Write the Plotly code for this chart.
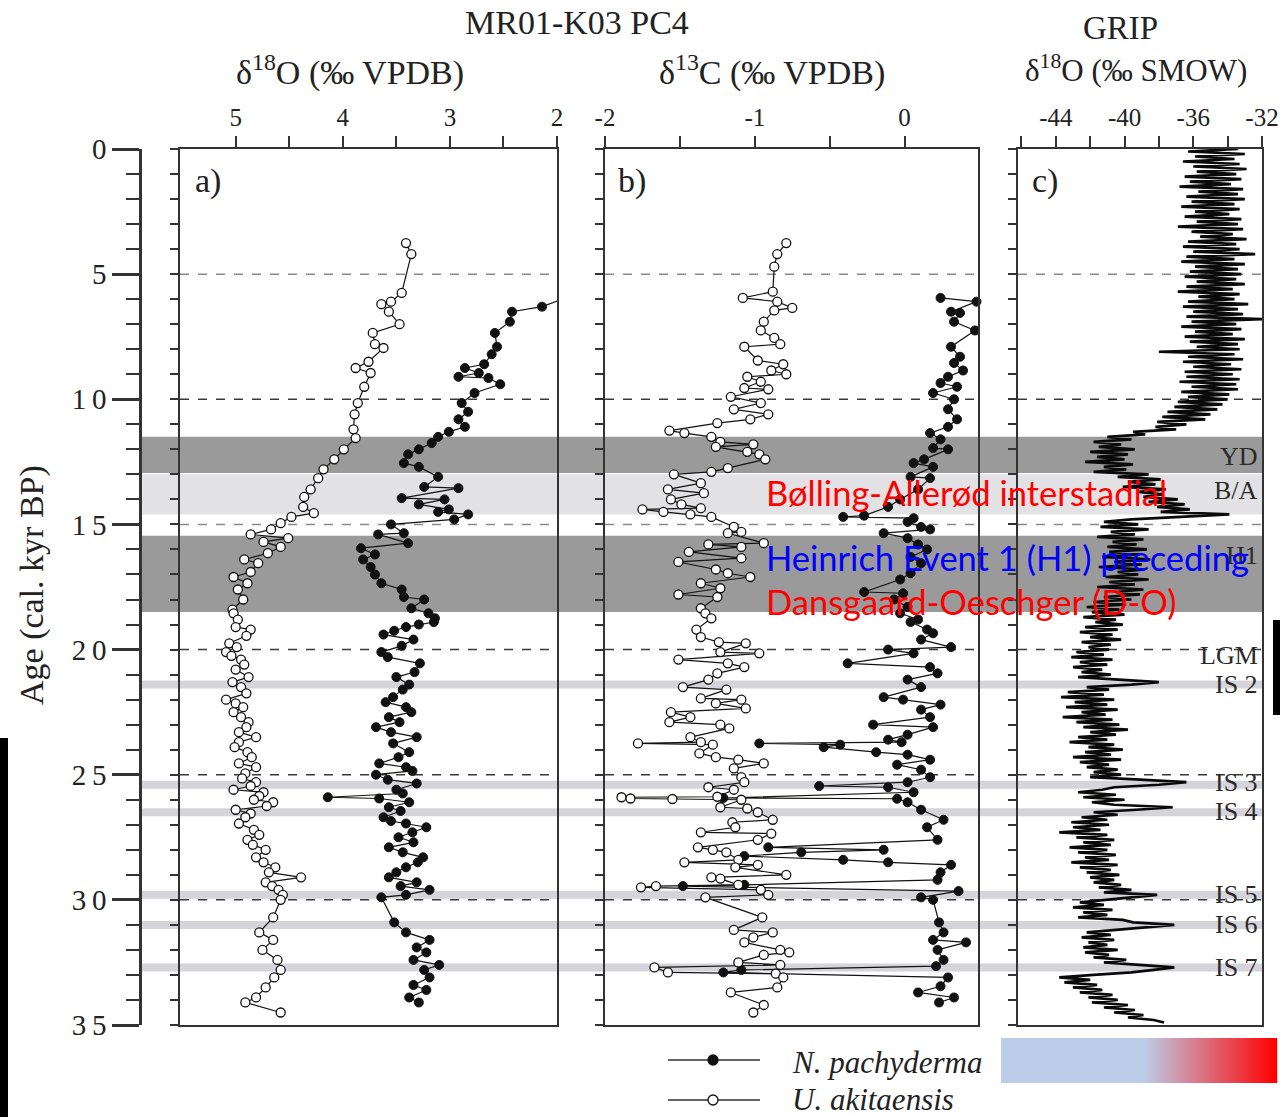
import plotly.graph_objects as go

W, H = 1286, 1117
SERIF = "Liberation Serif"
SANS = "Lato"

# ---------------- MR01-K03 PC4, panel a: d18O (permil VPDB) ----------------
a_pachy_age = [6.05, 6.3, 6.5, 6.9, 7.35, 7.9, 8.2, 8.6, 8.75, 8.95,
               9.1, 9.15, 9.4, 9.75, 10.15, 10.5, 10.8, 11.1, 11.3, 11.5,
               11.75, 12.0, 12.2, 12.55, 12.7, 13.1, 13.5, 13.55, 13.95, 14.0,
               14.2, 14.4, 14.5, 14.6, 14.8, 15.0, 15.35, 15.4, 15.75, 15.95,
               16.2, 16.4, 16.7, 17.0, 17.35, 17.6, 17.9, 18.0, 18.35, 18.55,
               18.75, 18.9, 19.0, 19.1, 19.25, 19.4, 19.6, 19.85, 20.1, 20.3,
               20.55, 20.9, 21.1, 21.4, 21.6, 21.9, 22.1, 22.3, 22.5, 22.7,
               22.9, 23.1, 23.3, 23.5, 23.75, 24.1, 24.3, 24.55, 24.7, 24.85,
               25.0, 25.2, 25.35, 25.6, 25.75, 25.9, 25.95, 26.1, 26.3, 26.45,
               26.7, 26.85, 26.95, 27.1, 27.3, 27.5, 27.7, 27.9, 28.1, 28.3,
               28.5, 28.7, 28.9, 29.1, 29.3, 29.45, 29.6, 29.8, 29.9, 30.9,
               31.3, 31.6, 31.9, 32.1, 32.4, 32.6, 32.8, 33.1, 33.4, 33.6,
               33.9, 34.1]
a_pachy_d18o = [1.98, 2.14, 2.42, 2.44, 2.58, 2.56, 2.61, 2.68, 2.86, 2.73,
                2.92, 2.64, 2.53, 2.77, 2.89, 2.83, 2.92, 2.86, 3.01, 3.11,
                3.17, 3.29, 3.39, 3.43, 3.29, 3.11, 3.24, 2.92, 3.45, 3.05,
                3.29, 3.01, 3.11, 2.83, 2.96, 3.55, 3.43, 3.67, 3.39, 3.83,
                3.70, 3.81, 3.74, 3.70, 3.64, 3.45, 3.43, 3.24, 3.36, 3.20,
                3.14, 3.15, 3.29, 3.41, 3.52, 3.62, 3.34, 3.45, 3.64, 3.58,
                3.28, 3.33, 3.50, 3.38, 3.44, 3.53, 3.60, 3.41, 3.36, 3.57,
                3.47, 3.69, 3.55, 3.31, 3.53, 3.38, 3.48, 3.66, 3.41, 3.35,
                3.69, 3.58, 3.31, 3.50, 3.44, 4.14, 3.66, 3.38, 3.57, 3.46,
                3.62, 3.55, 3.41, 3.22, 3.35, 3.48, 3.34, 3.57, 3.44, 3.25,
                3.30, 3.41, 3.50, 3.57, 3.31, 3.46, 3.19, 3.41, 3.64, 3.52,
                3.41, 3.19, 3.31, 3.22, 3.34, 3.10, 3.24, 3.19, 3.34, 3.22,
                3.38, 3.29]

a_akita_age = [3.76, 4.2, 5.75, 6.1, 6.2, 6.5, 7.0, 7.35, 7.8, 7.95,
               8.5, 8.75, 8.95, 9.5, 10.15, 10.6, 11.2, 11.55, 12.0, 12.4,
               12.8, 13.15, 13.6, 13.9, 14.3, 14.55, 14.7, 14.95, 15.2, 15.4,
               15.55, 15.7, 15.9, 16.15, 16.4, 16.55, 16.9, 17.1, 17.35, 17.6,
               18.0, 18.4, 18.55, 18.8, 19.1, 19.2, 19.45, 19.75, 19.9, 20.1,
               20.25, 20.4, 20.6, 20.8, 21.1, 21.3, 21.5, 21.75, 22.0, 22.15,
               22.3, 22.5, 22.7, 22.9, 23.1, 23.3, 23.5, 23.7, 23.9, 24.1,
               24.3, 24.55, 24.7, 24.95, 25.15, 25.3, 25.45, 25.6, 25.7, 25.85,
               26.0, 26.1, 26.25, 26.4, 26.55, 26.7, 26.95, 27.2, 27.4, 27.6,
               27.8, 28.0, 28.3, 28.5, 28.7, 28.9, 29.1, 29.3, 29.45, 29.6,
               29.8, 30.0, 30.7, 31.3, 31.6, 32.0, 32.4, 32.8, 33.1, 33.5,
               33.9, 34.1, 34.5]
a_akita_d18o = [3.41, 3.36, 3.45, 3.55, 3.64, 3.57, 3.47, 3.72, 3.70, 3.62,
                3.76, 3.88, 3.74, 3.80, 3.86, 3.89, 3.90, 3.88, 3.99, 4.08,
                4.18, 4.23, 4.30, 4.36, 4.37, 4.27, 4.48, 4.58, 4.67, 4.86,
                4.51, 4.74, 4.58, 4.70, 4.92, 4.79, 4.86, 5.02, 4.89, 4.98,
                4.93, 5.03, 5.02, 4.98, 5.00, 4.86, 4.90, 5.06, 4.99, 5.09,
                5.04, 4.95, 4.92, 5.00, 4.88, 5.03, 4.95, 4.90, 5.09, 5.00,
                4.93, 5.02, 4.95, 4.88, 4.90, 4.97, 4.81, 4.97, 5.01, 4.89,
                4.85, 4.97, 4.81, 4.91, 4.94, 4.81, 4.86, 5.02, 4.74, 4.78,
                4.83, 4.65, 4.71, 5.00, 4.86, 4.91, 4.97, 4.83, 4.78, 4.89,
                4.84, 4.72, 4.81, 4.74, 4.63, 4.69, 4.39, 4.72, 4.66, 4.60,
                4.56, 4.58, 4.65, 4.78, 4.65, 4.75, 4.61, 4.58, 4.64, 4.72,
                4.81, 4.91, 4.58]

# ---------------- MR01-K03 PC4, panel b: d13C (permil VPDB) ----------------
b_pachy_age = [5.95, 6.1, 6.5, 6.55, 6.9, 7.25, 7.9, 8.3, 8.55, 8.85,
               9.1, 9.35, 9.5, 9.75, 10.0, 10.4, 10.8, 11.1, 11.35, 11.6,
               11.95, 12.0, 12.4, 12.55, 12.7, 13.1, 13.15, 13.6, 14.0, 14.3,
               14.65, 14.7, 14.75, 14.9, 15.1, 15.2, 15.35, 15.55, 15.8, 16.0,
               16.3, 16.55, 16.95, 17.2, 17.7, 17.75, 18.0, 18.3, 18.55, 18.8,
               18.9, 19.2, 19.35, 19.6, 19.9, 20.0, 20.15, 20.55, 20.7, 20.95,
               21.2, 21.5, 21.9, 22.0, 22.2, 22.4, 22.7, 23.0, 23.1, 23.4,
               23.6, 23.7, 23.75, 23.8, 23.9, 24.1, 24.2, 24.4, 24.6, 24.8,
               25.1, 25.3, 25.45, 25.5, 25.7, 25.93, 25.96, 26.1, 26.4, 26.8,
               27.1, 27.6, 27.9, 28.0, 28.1, 28.25, 28.4, 28.5, 28.6, 28.9,
               29.2, 29.4, 29.45, 29.65, 29.9, 30.0, 30.9, 31.3, 31.6, 31.7,
               32.0, 32.4, 32.65, 32.8, 32.9, 33.1, 33.45, 33.7, 33.9, 34.1]
b_pachy_d13c = [0.24, 0.48, 0.31, 0.37, 0.33, 0.47, 0.31, 0.37, 0.33, 0.39,
                0.29, 0.24, 0.35, 0.19, 0.33, 0.29, 0.35, 0.29, 0.17, 0.24,
                0.19, 0.29, 0.13, 0.06, 0.19, 0.04, 0.17, 0.09, -0.03, -0.11,
                -0.27, -0.41, 0.06, 0.02, 0.11, 0.17, -0.14, 0.02, 0.09, 0.15,
                0.04, 0.11, 0.04, -0.03, -0.27, -0.01, -0.07, 0.02, -0.03, 0.09,
                0.04, 0.15, 0.19, 0.11, 0.31, -0.11, 0.06, -0.38, 0.17, 0.22,
                0.02, 0.11, -0.14, -0.01, 0.24, 0.11, 0.17, -0.21, 0.19, 0.02,
                -0.11, -0.02, -0.97, -0.43, -0.54, -0.19, 0.02, 0.17, -0.05, 0.11,
                0.17, 0.02, -0.57, -0.11, 0.06, -1.21, -0.05, 0.02, 0.11, 0.26,
                0.15, 0.22, -0.91, -0.14, -0.69, -1.07, -0.41, -0.11, 0.31, 0.24,
                0.22, -1.07, -1.48, 0.36, 0.11, 0.19, 0.23, 0.26, 0.19, 0.41,
                0.22, 0.26, 0.21, -1.09, -1.21, 0.29, 0.24, 0.09, 0.33, 0.23]

b_akita_age = [3.76, 4.2, 4.7, 5.7, 5.95, 6.1, 6.35, 6.45, 6.9, 7.25,
               7.55, 7.8, 7.9, 8.45, 8.6, 8.85, 9.0, 9.1, 9.3, 9.55,
               9.6, 9.9, 10.15, 10.4, 10.6, 10.8, 10.95, 11.25, 11.35, 11.5,
               11.7, 11.8, 11.9, 12.1, 12.2, 12.4, 12.75, 12.9, 13.0, 13.35,
               13.6, 13.75, 14.0, 14.2, 14.35, 14.4, 14.5, 14.6, 14.7, 15.1,
               15.3, 15.35, 15.75, 15.8, 15.9, 16.1, 16.35, 16.5, 16.8, 16.95,
               17.1, 17.35, 17.55, 17.8, 17.9, 18.35, 18.55, 18.75, 19.2, 19.5,
               19.7, 19.75, 20.1, 20.15, 20.4, 20.55, 20.7, 20.95, 21.2, 21.5,
               21.6, 21.95, 22.0, 22.15, 22.35, 22.5, 22.7, 22.9, 23.0, 23.15,
               23.5, 23.7, 23.75, 23.8, 24.15, 24.3, 24.4, 24.55, 24.75, 25.1,
               25.3, 25.5, 25.6, 25.88, 25.9, 25.95, 25.97, 26.0, 26.3, 26.35,
               26.5, 26.8, 26.9, 27.1, 27.3, 27.35, 27.6, 27.9, 28.0, 28.1,
               28.4, 28.5, 28.6, 28.7, 29.0, 29.1, 29.15, 29.4, 29.45, 29.5,
               29.6, 29.8, 29.9, 30.7, 31.2, 31.3, 31.5, 31.7, 32.0, 32.1,
               32.2, 32.5, 32.6, 32.7, 32.9, 32.95, 33.1, 33.5, 33.7, 34.2,
               34.5]
b_akita_d13c = [-0.79, -0.85, -0.87, -0.88, -1.08, -0.85, -0.75, -0.87, -0.94, -0.96,
                -0.87, -0.83, -1.07, -0.98, -0.81, -0.89, -0.79, -1.05, -0.96, -1.07,
                -0.91, -1.16, -0.96, -1.14, -0.91, -1.03, -1.25, -1.57, -1.47, -1.29,
                -1.23, -1.01, -1.26, -1.05, -0.97, -0.93, -1.18, -1.29, -1.54, -1.36,
                -1.58, -1.34, -1.56, -1.49, -1.36, -1.75, -1.61, -1.43, -1.29, -1.14,
                -1.09, -1.18, -0.94, -1.31, -1.09, -1.44, -1.09, -1.51, -1.26, -1.18,
                -1.03, -1.36, -1.23, -1.51, -1.25, -1.36, -1.33, -1.29, -1.39, -1.36,
                -1.24, -1.06, -1.23, -0.97, -1.51, -1.18, -1.07, -1.25, -1.31, -1.48,
                -1.19, -1.36, -1.09, -1.26, -1.06, -1.56, -1.43, -1.57, -1.23, -1.17,
                -1.43, -1.36, -1.78, -1.28, -1.37, -1.26, -1.11, -0.94, -1.14, -1.09,
                -1.07, -1.31, -1.14, -1.25, -1.89, -1.83, -1.55, -1.09, -1.23, -1.05,
                -0.98, -0.88, -1.15, -1.13, -1.36, -0.89, -0.98, -1.38, -1.28, -1.19,
                -1.11, -1.47, -0.98, -1.13, -0.79, -1.29, -1.23, -1.11, -1.66, -1.76,
                -0.96, -0.91, -1.33, -0.95, -1.14, -0.88, -1.01, -1.07, -0.83, -0.77,
                -0.94, -1.11, -0.83, -1.67, -1.58, -0.86, -0.81, -0.85, -1.16, -0.94,
                -1.01]

# ---------------- GRIP ice core d18O (permil SMOW), 100-yr steps from 0 kyr ----------------
grip_start_age = 0.0
grip_step = 0.1
grip_d18o = [
    -33.4, -36.3, -33.0, -35.9, -33.6, -36.6, -33.3, -36.0, -32.9, -35.8,
    -33.5, -36.5, -33.2, -36.2, -33.8, -36.8, -33.1, -35.7, -33.4, -36.4,
    -33.0, -36.1, -33.6, -36.7, -33.3, -35.9, -33.9, -36.5, -33.2, -35.8,
    -33.4, -36.9, -33.1, -36.1, -33.7, -35.6, -32.9, -36.3, -33.5, -36.6,
    -33.3, -36.0, -32.4, -36.4, -33.6, -36.7, -33.0, -35.9, -33.4, -36.2,
    -33.2, -36.5, -33.5, -35.8, -33.0, -36.4, -33.7, -36.9, -33.3, -35.7,
    -33.6, -36.3, -32.8, -36.6, -33.4, -36.0, -33.1, -36.4, -32.0, -36.1,
    -33.5, -36.7, -33.2, -35.9, -33.7, -36.5, -33.0, -36.2, -33.4, -35.8,
    -33.3, -38.0, -33.6, -36.3, -33.1, -36.6, -33.8, -36.0, -33.2, -36.5,
    -33.7, -36.4, -33.3, -36.8, -33.5, -36.1, -33.4, -36.7, -33.9, -36.3,
    -34.0, -36.9, -34.3, -37.1, -34.6, -37.5, -35.0, -37.8, -35.3, -38.1,
    -36.4, -38.2, -37.0, -39.5, -38.8, -41.0, -39.6, -41.8, -40.2, -41.5,
    -39.4, -42.0, -39.8, -41.6, -40.0, -42.3, -39.5, -41.2, -39.9, -41.8,
    -38.6, -40.4, -37.9, -39.8, -38.2, -40.1, -37.6, -39.2, -37.8, -38.9,
    -36.9, -38.6, -36.5, -38.1, -36.2, -37.9, -33.9, -37.0, -39.6, -41.2,
    -39.2, -41.4, -38.6, -40.8, -39.4, -41.6, -38.9, -40.7, -39.3, -41.0,
    -38.7, -40.9, -39.1, -41.3, -38.5, -40.6, -39.0, -41.5, -38.8, -40.4,
    -39.2, -41.1, -38.6, -40.9, -39.4, -41.6, -38.9, -40.5, -39.1, -41.2,
    -39.6, -41.8, -39.9, -42.2, -40.3, -41.9, -40.0, -42.4, -40.5, -41.7,
    -40.1, -42.3, -40.4, -42.6, -40.7, -42.0, -40.2, -42.5, -40.8, -42.1,
    -40.9, -42.8, -41.2, -43.1, -40.7, -42.6, -41.0, -43.0, -41.3, -42.5,
    -40.8, -42.7, -40.3, -38.0, -39.6, -42.2, -40.9, -43.3, -41.2, -43.7,
    -40.6, -42.9, -41.0, -43.4, -40.4, -42.5, -41.1, -43.6, -40.7, -42.8,
    -40.3, -42.4, -39.8, -42.0, -40.5, -42.7, -41.0, -43.2, -40.6, -42.1,
    -40.1, -42.3, -40.8, -43.0, -40.2, -42.6, -40.9, -42.2, -40.4, -41.8,
    -40.2, -42.0, -39.1, -36.4, -38.0, -40.6, -41.3, -42.7, -40.5, -42.4,
    -40.0, -41.9, -40.6, -37.2, -39.3, -41.8, -40.4, -42.5, -41.0, -43.1,
    -40.9, -43.0, -41.4, -43.8, -41.0, -42.8, -40.6, -42.4, -40.8, -43.2,
    -41.0, -42.7, -40.5, -42.3, -40.9, -43.1, -40.4, -42.6, -40.8, -42.2,
    -40.3, -42.0, -40.6, -41.8, -40.2, -41.5, -39.6, -41.2, -38.1, -39.5,
    -40.8, -42.6, -41.2, -43.0, -40.7, -42.4, -41.0, -42.7, -40.1, -39.5,
    -37.1, -39.0, -40.5, -42.2, -40.8, -42.5, -40.6, -42.1, -41.0, -42.4,
    -40.4, -42.3, -40.9, -41.8, -39.9, -41.2, -38.8, -37.1, -38.3, -39.6,
    -41.8, -43.8, -42.0, -43.5, -41.6, -43.0, -41.3, -42.6, -40.7, -42.1,
    -40.4, -41.9, -39.8, -41.2, -39.4, -40.6, -38.9, -39.8, -38.3, -37.7,
]
grip_age = [grip_start_age + i * grip_step for i in range(len(grip_d18o))]

# ---------------- climate intervals (kyr BP) ----------------
dark_bands = [(11.5, 12.95), (15.45, 18.5)]          # YD, H1
light_bands = [(13.0, 14.6)]                          # B/A
interstadials = [21.4, 25.4, 26.5, 29.8, 31.0, 32.7]  # IS 2 .. IS 7
dashed_ages = [5, 10, 15, 20, 25, 30]
interval_labels = ["YD", "B/A", "H1", "LGM", "IS 2", "IS 3", "IS 4", "IS 5", "IS 6", "IS 7"]
interval_label_ages = [12.3, 13.65, 16.25, 20.25, 21.4, 25.3, 26.45, 29.8, 31.0, 32.7]

age_ticks = [0, 5, 10, 15, 20, 25, 30, 35]
age_tick_text = ["0", "5", "1\u20090", "1\u20095", "2\u20090", "2\u20095", "3\u20090", "3\u20095"]


def px(x):
    return x / W


def py(y):
    return 1 - y / H


def sorted_pairs(ages, vals):
    pairs = sorted(zip(ages, vals))
    return [p[1] for p in pairs], [p[0] for p in pairs]


fig = go.Figure()

line_style = dict(color="#111111", width=1.2)
filled_marker = dict(size=9, color="#111111", line=dict(color="#111111", width=1))
open_marker = dict(size=9, color="white", line=dict(color="#111111", width=1.3))

for ages, vals, mk, xa, ya in [
    (a_pachy_age, a_pachy_d18o, filled_marker, "x", "y"),
    (a_akita_age, a_akita_d18o, open_marker, "x", "y"),
    (b_pachy_age, b_pachy_d13c, filled_marker, "x2", "y2"),
    (b_akita_age, b_akita_d13c, open_marker, "x2", "y2"),
]:
    xs, ys = sorted_pairs(ages, vals)
    fig.add_trace(go.Scatter(x=xs, y=ys, mode="lines+markers", line=line_style,
                             marker=mk, xaxis=xa, yaxis=ya, showlegend=False,
                             cliponaxis=False))

fig.add_trace(go.Scatter(x=grip_d18o, y=grip_age, mode="lines",
                         line=dict(color="#0a0a0a", width=2.7),
                         xaxis="x3", yaxis="y3", showlegend=False))

# placeholder for the outer age axis
fig.add_trace(go.Scatter(x=[None], y=[None], xaxis="x", yaxis="y4",
                         showlegend=False, hoverinfo="skip"))

tick_font = dict(family=SERIF, size=25, color="#222222")
ydom = [py(1025), py(149)]

common_x = dict(side="top", showline=True, linecolor="#333333", linewidth=2,
                mirror=True, ticks="outside", ticklen=11, tickwidth=1.5,
                tickcolor="#333333", tickfont=tick_font, showgrid=False,
                zeroline=False, automargin=False, tickmode="array")
common_y = dict(domain=ydom, range=[35, 0], showline=True, linecolor="#333333",
                linewidth=2, mirror=True, ticks="outside", ticklen=8,
                tickwidth=1.5, tickcolor="#333333", tickmode="array",
                tickvals=list(range(0, 36)), showticklabels=False,
                showgrid=False, zeroline=False, automargin=False)

fig.update_layout(
    width=W, height=H,
    margin=dict(l=0, r=0, t=0, b=0),
    paper_bgcolor="white", plot_bgcolor="rgba(0,0,0,0)",
    xaxis=dict(domain=[px(180), px(557)], range=[5.52, 2.0], anchor="y",
               tickvals=[5, 4.5, 4, 3.5, 3, 2.5, 2],
               ticktext=["5", "", "4", "", "3", "", "2"], **common_x),
    xaxis2=dict(domain=[px(605), px(978)], range=[-2.0, 0.49], anchor="y2",
                tickvals=[-2, -1.5, -1, -0.5, 0],
                ticktext=["-2", "", "-1", "", "0"], **common_x),
    xaxis3=dict(domain=[px(1018), px(1262)], range=[-46.2, -32.0], anchor="y3",
                tickvals=[-46, -44, -42, -40, -38, -36, -34, -32],
                ticktext=["", "-44", "", "-40", "", "-36", "", "-32"], **common_x),
    yaxis=dict(anchor="x", **common_y),
    yaxis2=dict(anchor="x2", **common_y),
    yaxis3=dict(anchor="x3", **common_y),
    yaxis4=dict(overlaying="y", anchor="free", position=px(140), side="left",
                range=[35, 0], showline=True, linecolor="#333333", linewidth=2.5,
                ticks="outside", ticklen=27, tickwidth=2.5, tickcolor="#333333",
                tickmode="array", tickvals=age_ticks, ticktext=age_tick_text,
                minor=dict(tickmode="array", tickvals=list(range(0, 36)),
                           ticks="outside", ticklen=13, tickwidth=2,
                           tickcolor="#333333"),
                tickfont=dict(family=SERIF, size=29, color="#222222"),
                showgrid=False, zeroline=False, automargin=False),
)

shapes = []
for y0, y1 in dark_bands:
    shapes.append(dict(type="rect", xref="paper", yref="y", x0=px(140), x1=px(1262),
                       y0=y0, y1=y1, fillcolor="#9a9a9a", line=dict(width=0),
                       layer="below"))
for y0, y1 in light_bands:
    shapes.append(dict(type="rect", xref="paper", yref="y", x0=px(140), x1=px(1262),
                       y0=y0, y1=y1, fillcolor="#e2e2e4", line=dict(width=0),
                       layer="below"))
for c in interstadials:
    shapes.append(dict(type="rect", xref="paper", yref="y", x0=px(140), x1=px(1262),
                       y0=c - 0.16, y1=c + 0.16, fillcolor="#d4d4da",
                       line=dict(width=0), layer="below"))
for xr, yr in [("x domain", "y"), ("x2 domain", "y2"), ("x3 domain", "y3")]:
    for a in dashed_ages:
        col = "#8a8a8a" if a in (5, 15) else "#3a3a3a"
        shapes.append(dict(type="line", xref=xr, yref=yr, x0=0, x1=1, y0=a, y1=a,
                           line=dict(color=col, width=1.5, dash="dash"),
                           layer="below"))

# legend symbols
for yl, fill in [(1060, "#111111"), (1100, "white")]:
    shapes.append(dict(type="line", xref="paper", yref="paper", x0=px(668), x1=px(760),
                       y0=py(yl), y1=py(yl), line=dict(color="#333333", width=1.5)))
    shapes.append(dict(type="circle", xref="paper", yref="paper",
                       x0=px(708), x1=px(718), y0=py(yl + 5), y1=py(yl - 5),
                       fillcolor=fill, line=dict(color="#111111", width=1.3)))

# side bars
shapes.append(dict(type="rect", xref="paper", yref="paper", x0=0, x1=px(8),
                   y0=0, y1=py(738), fillcolor="black", line=dict(width=0)))
shapes.append(dict(type="rect", xref="paper", yref="paper", x0=px(1273), x1=px(1280),
                   y0=py(715), y1=py(620), fillcolor="black", line=dict(width=0)))

# colour bar: pale blue block fading to red
blue = (188, 205, 233)
red = (255, 0, 0)
shapes.append(dict(type="rect", xref="paper", yref="paper", x0=px(1001), x1=px(1144),
                   y0=py(1083), y1=py(1038), fillcolor="rgb(%d,%d,%d)" % blue,
                   line=dict(width=0)))
g0, g1 = 1143, 1277
for i in range(g1 - g0):
    t = i / (g1 - g0 - 1)
    col = tuple(round(blue[k] + (red[k] - blue[k]) * t) for k in range(3))
    shapes.append(dict(type="rect", xref="paper", yref="paper",
                       x0=px(g0 + i), x1=px(g0 + i + 1.2), y0=py(1083), y1=py(1038),
                       fillcolor="rgb(%d,%d,%d)" % col, line=dict(width=0)))

fig.update_layout(shapes=shapes)

ann = []


def text(x, y, s, size=26, family=SERIF, color="#222222", xanchor="center", angle=0):
    ann.append(dict(x=px(x), y=py(y), xref="paper", yref="paper", text=s,
                    showarrow=False, xanchor=xanchor, yanchor="middle",
                    textangle=angle, font=dict(family=family, size=size, color=color)))


text(577, 22, "MR01-K03 PC4", size=34)
text(350, 70, "δ<sup>18</sup>O (‰ VPDB)", size=34)
text(772, 70, "δ<sup>13</sup>C (‰ VPDB)", size=34)
text(1120, 28, "GRIP", size=33)
text(1136, 68, "δ<sup>18</sup>O (‰ SMOW)", size=31)
text(32, 585, "Age (cal. kyr BP)", size=34, angle=-90)
text(208, 181, "a)", size=34)
text(632, 181, "b)", size=34)
text(1045, 181, "c)", size=34)

for lab, age in zip(interval_labels, interval_label_ages):
    ann.append(dict(x=px(1260), y=age, xref="paper", yref="y", text=lab,
                    showarrow=False, xanchor="right", yanchor="middle",
                    font=dict(family=SERIF, size=26, color="#2a2a2a")))

text(764, 492, "Bølling-Allerød interstadial", size=34.5, family=SANS,
     color="#ff0000", xanchor="left")
text(764, 557, "Heinrich Event 1 (H1) preceding", size=34.5, family=SANS,
     color="#0000ff", xanchor="left")
text(764, 602, "Dansgaard-Oeschger (D-O)", size=34.5, family=SANS,
     color="#ff0000", xanchor="left")

text(790, 1062, "<i>N. pachyderma</i>", size=31, xanchor="left")
text(790, 1099, "<i>U. akitaensis</i>", size=31, xanchor="left")

fig.update_layout(annotations=ann)

fig.write_html("out.html")
